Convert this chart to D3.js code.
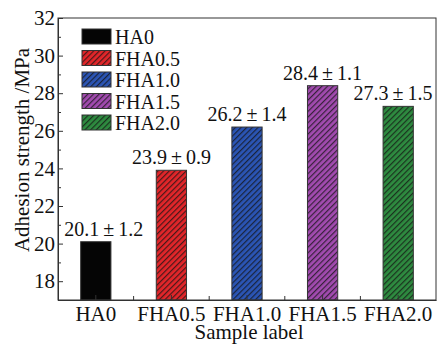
<!DOCTYPE html>
<html><head><meta charset="utf-8">
<script src="https://cdn.jsdelivr.net/npm/d3@7"></script>
<style>body{margin:0;background:#fff}svg{display:block}
svg text{font-family:"Liberation Serif","DejaVu Serif","Noto Serif","Times New Roman",Times,serif !important;}</style>
</head><body><svg id="c" width="437" height="344"></svg>
<script>
const categories = ["HA0","FHA0.5","FHA1.0","FHA1.5","FHA2.0"];
const values = [20.1, 23.9, 26.2, 28.4, 27.3];
const errors = [1.2, 0.9, 1.4, 1.1, 1.5];
const colors = ["#050505","#e3262a","#2b55b5","#a24bb0","#2e8b40"];
const hatched = [false, true, true, true, true];
const yTicks = [18,20,22,24,26,28,30,32];
const yMinor = [17,19,21,23,25,27,29,31];

const svg = d3.select("#c");
const L = 58, R = 436, T = 18, B = 300;
const x = d3.scaleBand().domain(categories).range([L, R]).paddingInner(0.6).paddingOuter(0.3);
const y = d3.scaleLinear().domain([17, 32]).range([B, T]);

const defs = svg.append("defs");
categories.forEach((c, i) => {
  const p = defs.append("pattern").attr("id", "h" + i).attr("patternUnits", "userSpaceOnUse")
    .attr("width", 4).attr("height", 4).attr("patternTransform", "rotate(45)");
  p.append("rect").attr("width", 4).attr("height", 4).attr("fill", colors[i]);
  if (hatched[i]) p.append("rect").attr("width", 1.2).attr("height", 4).attr("fill", "rgba(20,20,20,0.75)");
});
const fillOf = i => hatched[i] ? `url(#h${i})` : colors[i];

// bars
svg.append("g").selectAll("rect").data(values).join("rect")
  .attr("x", (d, i) => x(categories[i]))
  .attr("y", d => y(d))
  .attr("width", x.bandwidth())
  .attr("height", d => B - y(d))
  .attr("fill", (d, i) => fillOf(i))
  .attr("stroke", "#333").attr("stroke-width", 1);

// value labels
svg.append("g").selectAll("text").data(values).join("text")
  .attr("x", (d, i) => Math.min(x(categories[i]) + x.bandwidth() / 2 + (i === 0 ? 8 : 0), 393))
  .attr("y", d => y(d) - 6)
  .attr("text-anchor", "middle")
  .style("font-size", "20px").attr("fill", "#111")
  .text((d, i) => d.toFixed(1) + "\u2009±\u2009" + errors[i].toFixed(1));

// axes
const yAxis = d3.axisLeft(y).tickValues(yTicks).tickSizeInner(-5).tickSizeOuter(0).tickPadding(3).tickFormat(d3.format("d"));
const gy = svg.append("g").attr("transform", `translate(${L},0)`).call(yAxis);
const yAxisMinor = d3.axisLeft(y).tickValues(yMinor).tickSizeInner(-3).tickSizeOuter(0).tickFormat("");
const gym = svg.append("g").attr("transform", `translate(${L},0)`).call(yAxisMinor);
gym.select(".domain").remove();

const xAxis = d3.axisBottom(x).tickSizeInner(-5).tickSizeOuter(0).tickPadding(6);
const gx = svg.append("g").attr("transform", `translate(0,${B})`).call(xAxis);

// minor x ticks between bands
const mids = categories.slice(1).map(c => x(c) - (x.step() - x.bandwidth()) / 2);
svg.append("g").selectAll("line").data(mids).join("line")
  .attr("x1", d => d).attr("x2", d => d).attr("y1", B).attr("y2", B - 4)
  .attr("stroke", "#333");

[gx, gy, gym].forEach(g => {
  g.attr("font-family", null).attr("font-size", null);
  g.selectAll("text").style("font-size", "21px").attr("fill", "#111");
  g.selectAll("line").attr("stroke", "#333");
  g.select(".domain").attr("stroke", "#333");
});

// frame
svg.append("rect").attr("x", L).attr("y", T).attr("width", R - L).attr("height", B - T)
  .attr("fill", "none").attr("stroke", "#333").attr("stroke-width", 1);

// legend
const lg = svg.append("g").attr("transform", "translate(82,29)");
categories.forEach((c, i) => {
  const row = lg.append("g").attr("transform", `translate(0,${i * 21.5})`);
  row.append("rect").attr("width", 29).attr("height", 15).attr("fill", fillOf(i)).attr("stroke", "#333");
  row.append("text").attr("x", 33).attr("y", 15).style("font-size", "20px")
    .attr("fill", "#111").text(c);
});

// titles
svg.append("text").attr("x", 249).attr("y", 339).attr("text-anchor", "middle")
  .style("font-size", "21px").attr("fill", "#111").text("Sample label");
svg.append("text").attr("transform", `translate(29,150) rotate(-90)`).attr("text-anchor", "middle")
  .style("font-size", "21px").attr("fill", "#111").text("Adhesion strength /MPa");
</script></body></html>
